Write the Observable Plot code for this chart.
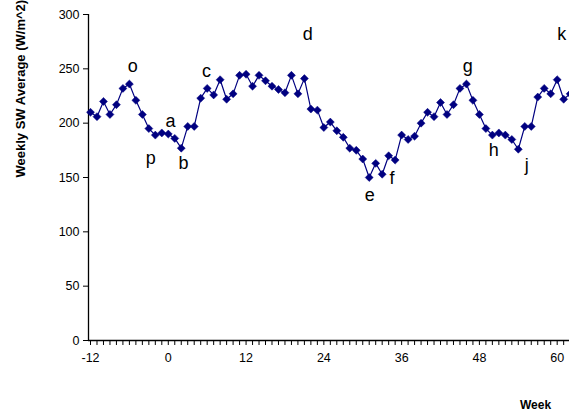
<!DOCTYPE html>
<html>
<head>
<meta charset="utf-8">
<script src="https://cdn.jsdelivr.net/npm/d3@7"></script>
<script src="https://cdn.jsdelivr.net/npm/@observablehq/plot@0.6"></script>
<style>
  html, body { margin: 0; padding: 0; background: #fff; }
  #chart { width: 569px; height: 415px; overflow: hidden; }
</style>
</head>
<body>
<div id="chart"></div>
<script>
const weeks = d3.range(-12, 63);
const values = [
  210, 206, 220, 208, 217, 232, 236, 221, 208, 195, 189, 191, 190, 186, 177, 197, 197,
  223, 232, 226, 240, 222, 227, 244, 245, 234, 244, 239, 234, 231, 228, 244, 227, 241,
  213, 212, 196, 201, 193, 187, 177, 175, 167, 150, 163, 153, 170, 166, 189, 185, 188,
  200, 210, 206, 219, 208, 217, 232, 236, 221, 208, 195, 189, 191, 189, 185, 176, 197,
  197, 224, 232, 227, 240, 222, 227
];
const labelText = ["o", "p", "a", "b", "c", "d", "e", "f", "g", "h", "j", "k"];
const labelWeek = [-5.5, -2.7, 0.35, 2.35, 5.9, 21.5, 31.1, 34.5, 46.2, 50.2, 55.3, 60.7];
const labelValue = [252, 168, 202, 163, 248, 282, 134, 149, 252, 175, 161, 282];
const xTicks = [-12, 0, 12, 24, 36, 48, 60];
const yTicks = [0, 50, 100, 150, 200, 250, 300];
const yTitle = "Weekly SW Average (W/m^2)";
const xTitle = "Week";

const data = weeks.map((w, i) => ({week: w, value: values[i]}));
const labels = labelText.map((t, i) => ({text: t, week: labelWeek[i], value: labelValue[i]}));

const navy = "#000080";
const font = "Liberation Sans, Arial, sans-serif";

const chart = Plot.plot({
  width: 569,
  height: 415,
  marginLeft: 88,
  marginRight: 0,
  marginTop: 14,
  marginBottom: 75,
  style: {fontFamily: font, background: "#fff", color: "#000", overflow: "hidden"},
  x: {domain: [-12.31, 61.9], range: [88, 569]},
  y: {domain: [0, 300]},
  marks: [
    Plot.axisY({ticks: yTicks, tickSize: 5, tickPadding: 4, fontSize: 12.5, label: null, tickFormat: d => String(d), strokeOpacity: 1}),
    Plot.ruleX(weeks, {y1: 0, y2: -4.6, stroke: "#000", strokeWidth: 1}),
    Plot.axisX({ticks: xTicks, tickSize: 0, tickPadding: 13, fontSize: 12.5, label: null, tickFormat: d => String(d)}),
    Plot.ruleX([-12.31], {y1: 0, y2: 300, stroke: "#000", strokeWidth: 1.3}),
    Plot.ruleY([0], {stroke: "#000", strokeWidth: 1.3}),
    Plot.line(data, {x: "week", y: "value", stroke: navy, strokeWidth: 1.2}),
    Plot.dot(data, {x: "week", y: "value", symbol: "diamond2", r: 3.6, fill: navy, stroke: navy, strokeWidth: 0.5}),
    Plot.text(labels, {x: "week", y: "value", text: "text", fontSize: 18, fill: "#000"}),
    Plot.text([yTitle], {frameAnchor: "left", rotate: -90, dx: -68, fontWeight: "bold", fontSize: 13, fill: "#000"}),
    Plot.text([xTitle], {frameAnchor: "bottom-right", dx: -34, dy: 68, textAnchor: "middle", fontWeight: "bold", fontSize: 12, fill: "#000"})
  ]
});
document.getElementById("chart").appendChild(chart);
</script>
</body>
</html>
